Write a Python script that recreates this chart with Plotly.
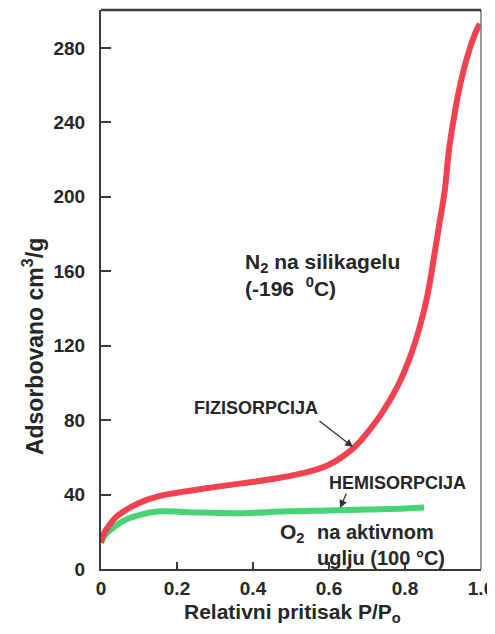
import plotly.graph_objects as go

# N2 na silikagelu (-196 C) - fizisorpcija
n2_p = [0.0, 0.005, 0.02, 0.04, 0.06, 0.10, 0.15, 0.20, 0.28, 0.37, 0.47, 0.55, 0.60,
        0.64, 0.67, 0.70, 0.74, 0.78, 0.81, 0.84, 0.86, 0.875, 0.89, 0.905, 0.915,
        0.93, 0.945, 0.965, 0.985, 0.997]
n2_v = [14, 18, 23, 28, 31, 35.5, 39, 41, 43.5, 46, 49, 52.5, 56,
        61, 66, 73, 84, 98, 112, 131, 148, 166, 185, 204, 224,
        244, 260, 276, 288, 293]

# O2 na aktivnom uglju (100 C) - hemisorpcija
o2_p = [0.0, 0.01, 0.025, 0.06, 0.10, 0.155, 0.23, 0.37, 0.49, 0.60, 0.70, 0.80, 0.85]
o2_v = [14, 18, 21, 26, 29, 31, 30.5, 30, 31, 31.5, 32, 32.5, 33]

x_ticks = [0, 0.2, 0.4, 0.6, 0.8, 1.0]
x_tick_labels = ["0", "0.2", "0.4", "0.6", "0.8", "1.0"]
y_ticks = [0, 40, 80, 120, 160, 200, 240, 280]
y_tick_labels = ["0", "40", "80", "120", "160", "200", "240", "280"]

FONT = "Liberation Sans, Arial, sans-serif"
TXT = "#262626"

fig = go.Figure()
fig.add_trace(go.Scatter(x=o2_p, y=o2_v, mode="lines",
                         line=dict(color="#46d474", width=6, shape="spline", smoothing=1.2),
                         showlegend=False, hoverinfo="skip"))
fig.add_trace(go.Scatter(x=n2_p, y=n2_v, mode="lines",
                         line=dict(color="#f2424f", width=6, shape="spline", smoothing=1.2),
                         showlegend=False, hoverinfo="skip"))

ann = []
ann.append(dict(x=0.374, y=158, xref="x", yref="y", xanchor="left", yanchor="middle",
                align="left", showarrow=False,
                text="<b>N<sub>2</sub> na silikagelu<br>(-196\u00a0\u00a0<sup>0</sup>C)</b>",
                font=dict(size=21, family=FONT, color=TXT)))
ann.append(dict(x=0.239, y=86.5, xref="x", yref="y", xanchor="left", yanchor="middle",
                showarrow=False, text="<b>FIZISORPCIJA</b>",
                font=dict(size=18, family=FONT, color=TXT)))
ann.append(dict(x=0.663, y=65.6, xref="x", yref="y", ax=-35, ay=-27,
                showarrow=True, arrowhead=2, arrowsize=1.2, arrowwidth=1.3,
                arrowcolor="#333", text=""))
ann.append(dict(x=0.595, y=46.2, xref="x", yref="y", xanchor="left", yanchor="middle",
                showarrow=False, text="<b>HEMISORPCIJA</b>",
                font=dict(size=18, family=FONT, color=TXT)))
ann.append(dict(x=0.629, y=32.8, xref="x", yref="y", ax=7, ay=-16,
                showarrow=True, arrowhead=2, arrowsize=1.2, arrowwidth=1.3,
                arrowcolor="#333", text=""))
ann.append(dict(x=0.466, y=19.5, xref="x", yref="y", xanchor="left", yanchor="middle",
                showarrow=False, text="<b>O<sub>2</sub></b>",
                font=dict(size=21, family=FONT, color=TXT)))
ann.append(dict(x=0.563, y=12.8, xref="x", yref="y", xanchor="left", yanchor="middle",
                align="left", showarrow=False,
                text="<b>na aktivnom<br>uglju (100 \u00b0C)</b>",
                font=dict(size=20, family=FONT, color=TXT)))
# axis titles
ann.append(dict(x=0, y=0.397, xref="paper", yref="paper", xshift=-68,
                xanchor="center", yanchor="middle", textangle=-90, showarrow=False,
                text="<b>Adsorbovano cm<sup>3</sup>/g</b>",
                font=dict(size=23, family=FONT, color=TXT)))
ann.append(dict(x=0.505, y=0, xref="paper", yref="paper", yshift=-44,
                xanchor="center", yanchor="middle", showarrow=False,
                text="<b>Relativni pritisak P/P<sub>o</sub></b>",
                font=dict(size=21, family=FONT, color=TXT)))

# page body has an 8px default margin; size the figure to fit the window
fig.update_layout(
    width=487, height=626,
    margin=dict(l=93, r=14, t=2, b=65, autoexpand=False),
    paper_bgcolor="white", plot_bgcolor="white",
    annotations=ann,
    shapes=[dict(type="line", xref="paper", yref="paper", x0=1, x1=1, y0=0, y1=1,
                 line=dict(color="#777", width=1.5))],
)
fig.update_xaxes(range=[0, 1], tickvals=x_ticks, ticktext=x_tick_labels, automargin=False,
                 showgrid=False, zeroline=False, showline=True, linecolor="#3a3a3a",
                 linewidth=2, mirror=False, ticks="inside", ticklen=7, tickwidth=2,
                 tickcolor="#3a3a3a", ticklabelstandoff=1,
                 tickfont=dict(size=19, family=FONT, color=TXT, weight="bold"))
fig.update_yaxes(range=[0, 300.4], tickvals=y_ticks, ticktext=y_tick_labels, automargin=False,
                 showgrid=False, zeroline=False, showline=True, linecolor="#3a3a3a",
                 linewidth=2, mirror=False, ticks="inside", ticklen=10, tickwidth=2,
                 tickcolor="#3a3a3a", ticklabelstandoff=10,
                 tickfont=dict(size=19, family=FONT, color=TXT, weight="bold"))
fig.add_shape(type="line", xref="paper", yref="paper", x0=0, x1=1, y0=1, y1=1,
              line=dict(color="#3a3a3a", width=2.5))

fig.write_html("out.html")
